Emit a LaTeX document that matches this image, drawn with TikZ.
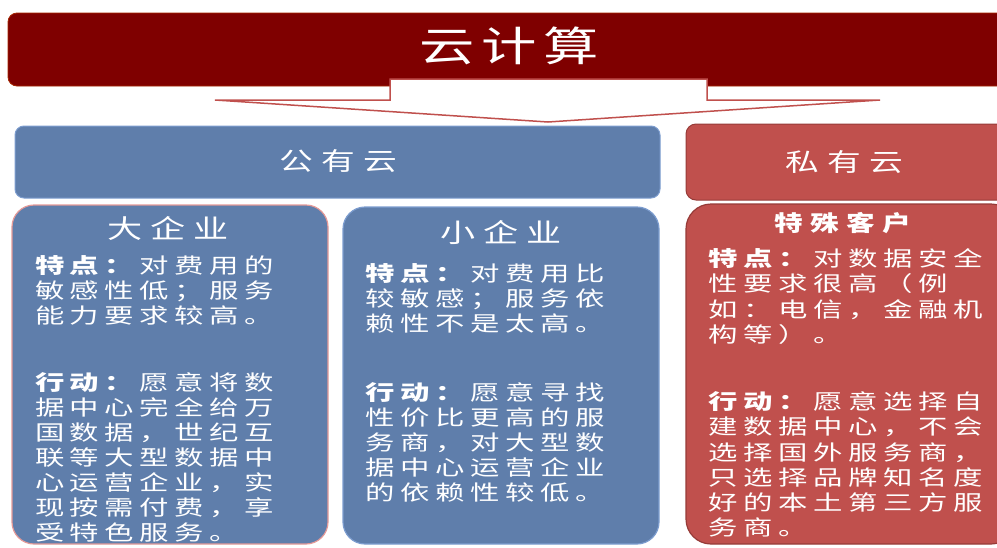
\documentclass[tikz,border=0pt]{standalone}
\usepackage{fontspec}
\newfontfamily\cjk{Noto Sans CJK SC}
\definecolor{maroon}{HTML}{7F0000}
\definecolor{pubblue}{HTML}{5F7EAB}
\definecolor{pubedge}{HTML}{7D9DCF}
\definecolor{privred}{HTML}{C0504D}
\definecolor{privedge}{HTML}{963B38}
\definecolor{pinkedge}{HTML}{E59A98}
\newdimen\cpitch
\def\cstretch{1.3}
\def\cjkspx#1{\ifx#1\relax\else\makebox[\cpitch][c]{\scalebox{\cstretch}[1]{#1}}\expandafter\cjkspx\fi}
\newcommand\spc[1]{\cjkspx#1\relax}
\newcommand\bodyfont{\cjk\fontsize{21}{25}\selectfont\cpitch=35pt\def\cstretch{1.4}}
\newcommand\privfont{\cjk\fontsize{21}{25.2}\selectfont\cpitch=35pt\def\cstretch{1.4}}
\newcommand\titlefont{\cjk\fontsize{26}{28}\selectfont\cpitch=43pt\def\cstretch{1.35}}
\newcommand\barfont{\cjk\fontsize{25}{27}\selectfont\cpitch=42pt\def\cstretch{1.35}}
\newcommand\topfont{\cjk\fontsize{41}{44}\selectfont\cpitch=62pt\def\cstretch{1.35}}
\newcommand\custfont{\cjk\bfseries\fontsize{22}{24}\selectfont\cpitch=36pt\def\cstretch{1.3}}
\tikzset{
  panel/.style={anchor=north west, inner sep=0pt, outer sep=0pt},
  bluebar/.style={panel, fill=pubblue, draw=pubedge, line width=1pt, rounded corners=9pt},
  redbar/.style={panel, fill=privred, draw=privedge, line width=1pt, rounded corners=10pt},
  bluebox/.style={panel, fill=pubblue, draw=pubedge, line width=1.2pt, rounded corners=22pt},
  redbox/.style={panel, fill=privred, draw=privedge, line width=1.2pt, rounded corners=25pt},
  bodytxt/.style={anchor=north west, inner sep=0pt, align=left, text=white, font=\bodyfont},
  privtxt/.style={bodytxt, font=\privfont},
  ttl/.style={anchor=center, inner sep=0pt, text=white},
}
\begin{document}
\begin{tikzpicture}[x=1pt,y=-1pt]
\useasboundingbox (0,0) rectangle (997,547);
\clip (0,0) rectangle (997,547);
% top bar
\node[panel, fill=maroon, draw=maroon!70!orange, line width=0.8pt, rounded corners=9pt,
      minimum width=1010pt, minimum height=73pt] (topbar) at (8,13) {};
\node[ttl, font=\topfont] (toptxt) at (509,46) {\spc{云计算}};
% block arrow
\draw[fill=white, draw=privred, line width=1.5pt, line join=miter]
  (390,79) -- (707,79) -- (707,100) -- (880,100) -- (548,122) -- (215,100) -- (390,100) -- cycle;
% second row bars
\node[bluebar, minimum width=645pt, minimum height=72pt] (pubbar) at (15,126) {};
\node[ttl, font=\barfont] (pubtxt) at (338,161) {\spc{公有云}};
\node[redbar, minimum width=330pt, minimum height=76pt] (privbar) at (686,124) {};
\node[ttl, font=\barfont] (privtxt) at (844,162) {\spc{私有云}};
% lower boxes
\node[bluebox, draw=pinkedge, minimum width=316pt, minimum height=339pt] (bigbox) at (12,205) {};
\node[bluebox, minimum width=316pt, minimum height=337pt] (smallbox) at (343,207) {};
\node[redbox, minimum width=330pt, minimum height=340pt] (custbox) at (686,204) {};
% titles
\node[ttl, font=\titlefont] (bigttl) at (168,228) {\spc{大企业}};
\node[ttl, font=\titlefont] (smallttl) at (501,233) {\spc{小企业}};
\node[ttl, font=\custfont] (custttl) at (843,223) {\spc{特殊客户}};
% big enterprise text
\node[bodytxt] (bigA) at (32,255.5) {{\bfseries\spc{特点：}}\spc{对费用的}\\
\spc{敏感性低；服务}\\
\spc{能力要求较高。}};
\node[bodytxt] (bigB) at (32,372) {{\bfseries\spc{行动：}}\spc{愿意将数}\\
\spc{据中心完全给万}\\
\spc{国数据，世纪互}\\
\spc{联等大型数据中}\\
\spc{心运营企业，实}\\
\spc{现按需付费，享}\\
\spc{受特色服务。}};
% small enterprise text
\node[bodytxt] (smallA) at (362,263.5) {{\bfseries\spc{特点：}}\spc{对费用比}\\
\spc{较敏感；服务依}\\
\spc{赖性不是太高。}};
\node[bodytxt] (smallB) at (362,382.5) {{\bfseries\spc{行动：}}\spc{愿意寻找}\\
\spc{性价比更高的服}\\
\spc{务商，对大型数}\\
\spc{据中心运营企业}\\
\spc{的依赖性较低。}};
% special customers text
\node[privtxt] (custA) at (705,248.5) {{\bfseries\spc{特点：}}\spc{对数据安全}\\
\spc{性要求很高（例}\\
\spc{如：电信，金融机}\\
\spc{构等）。}};
\node[privtxt] (custB) at (705,391.5) {{\bfseries\spc{行动：}}\spc{愿意选择自}\\
\spc{建数据中心，不会}\\
\spc{选择国外服务商，}\\
\spc{只选择品牌知名度}\\
\spc{好的本土第三方服}\\
\spc{务商。}};
\end{tikzpicture}
\end{document}
